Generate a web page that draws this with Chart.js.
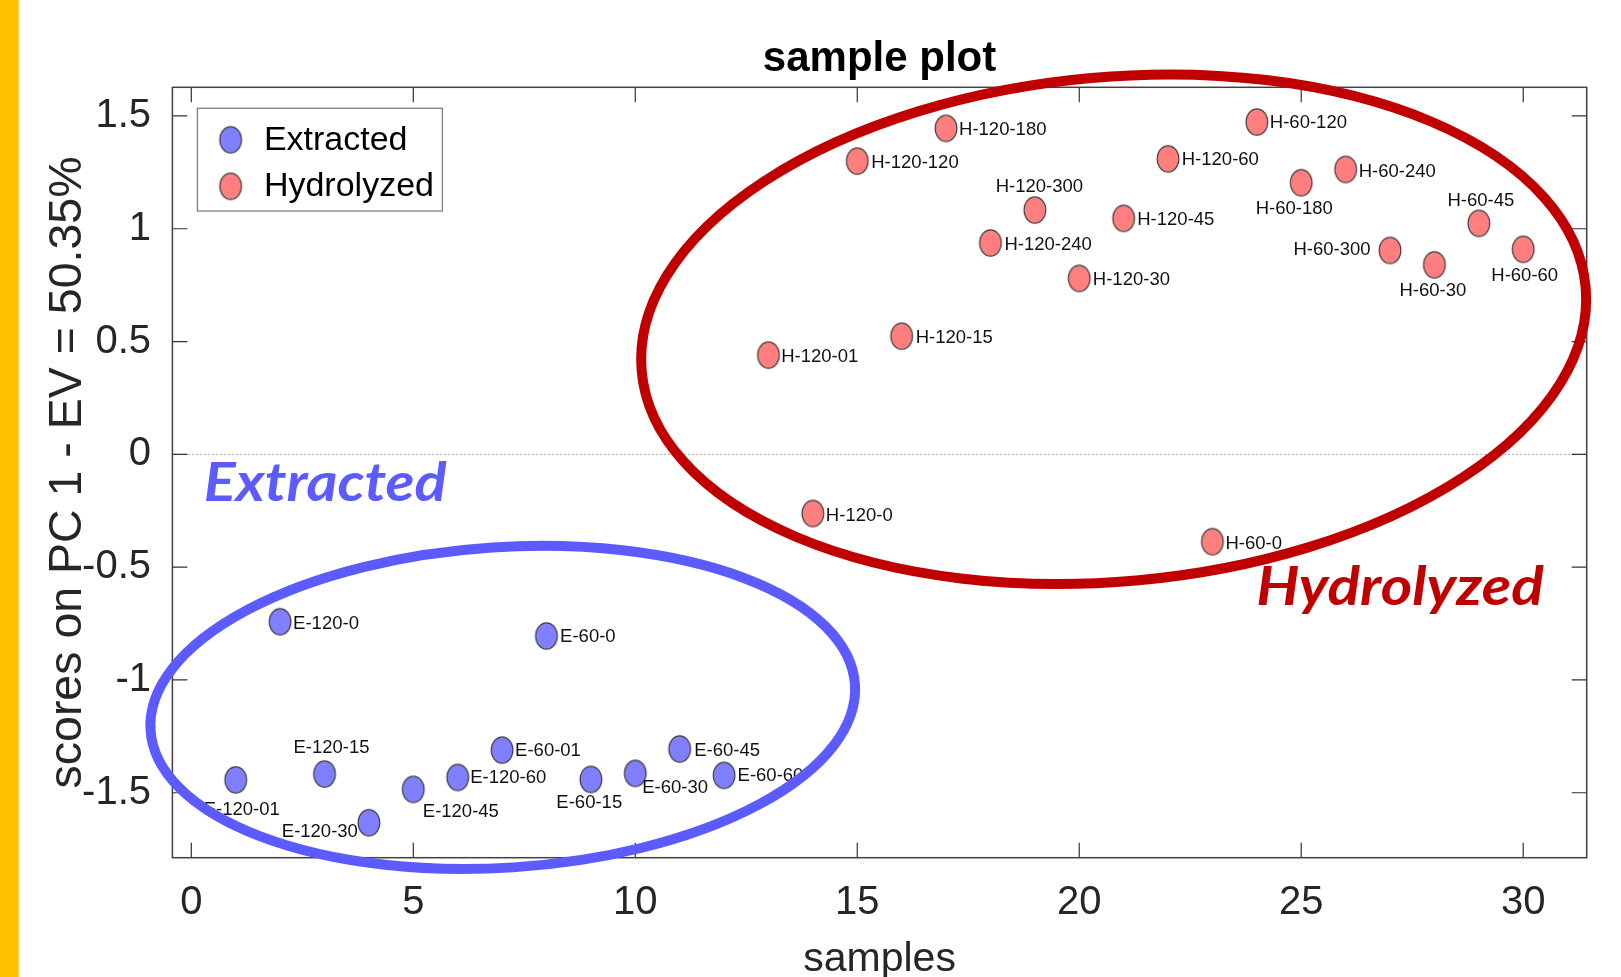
<!DOCTYPE html>
<html><head><meta charset="utf-8">
<script src="https://cdn.jsdelivr.net/npm/chart.js@4.4.1/dist/chart.umd.min.js"></script>
<style>html,body{margin:0;padding:0;background:#fff;overflow:hidden}canvas{display:block}</style>
</head><body>
<canvas id="c" width="1621" height="977" style="width:1621px;height:977px"></canvas>
<script>
// ---------- data ----------
const seriesNames = ['Extracted', 'Hydrolyzed'];
const extSamples = [1,2,3,4,5,6,7,8,9,10,11,12];
const extLabels = ['E-120-01','E-120-0','E-120-15','E-120-30','E-120-45','E-120-60','E-60-01','E-60-0','E-60-15','E-60-30','E-60-45','E-60-60'];
const extScores = [-1.443,-0.742,-1.417,-1.633,-1.485,-1.432,-1.311,-0.805,-1.441,-1.414,-1.306,-1.423];
const hydSamples = [13,14,15,16,17,18,19,20,21,22,23,24,25,26,27,28,29,30];
const hydLabels = ['H-120-01','H-120-0','H-120-120','H-120-15','H-120-180','H-120-240','H-120-300','H-120-30','H-120-45','H-120-60','H-60-0','H-60-120','H-60-180','H-60-240','H-60-300','H-60-30','H-60-45','H-60-60'];
const hydScores = [0.440,-0.262,1.300,0.524,1.445,0.937,1.083,0.780,1.046,1.310,-0.387,1.473,1.204,1.263,0.904,0.840,1.024,0.909];
const xTicks = [0,5,10,15,20,25,30];
const yTicks = [-1.5,-1,-0.5,0,0.5,1,1.5];
const xRange = [-0.426, 31.43];
const yRange = [-1.788, 1.627];
const titleText = 'sample plot';
const xTitle = 'samples';
const yTitle = 'scores on PC 1 - EV = 50.35%';

// label placement relative to marker: [dx px, dy px, align]
const extLabelPos = [[6,30,'center'],[13,2,'left'],[7,-26,'center'],[-11,9,'right'],[9.5,23,'left'],[12.5,1,'left'],[13,1,'left'],[13.6,1,'left'],[-1.6,23,'center'],[7,15,'left'],[14.6,2,'left'],[13.5,1,'left']];
const hydLabelPos = [[12.7,2,'left'],[13,2,'left'],[14,2,'left'],[14,2,'left'],[13,2,'left'],[14,1.5,'left'],[4.5,-23,'center'],[13.6,2,'left'],[13.6,2,'left'],[13.7,1,'left'],[13,2,'left'],[13,1,'left'],[-7,26,'center'],[13,2,'left'],[-19.5,0,'right'],[-1.5,26,'center'],[2,-22,'center'],[1.5,27,'center']];

// group annotations (centre in data units, semi-axes in data units, rotation deg)
const groupNames = ['Extracted', 'Hydrolyzed'];
const groupEllipses = [
  {cx: 7.015, cy: -1.1219, rx: 7.950, ry: 0.7105, rot: -3.7, color: '#5B5BFF'},
  {cx: 20.775, cy: 0.5545, rx: 10.673, ry: 1.1184, rot: -5.1, color: '#C00000'}
];
const groupTextPos = [
  {x: 0.2795, y: -0.2083, width: 243, color: '#5B5BFF'},
  {x: 23.985, y: -0.668, width: 287.5, color: '#C00000'}
];

// ---------- rendering ----------
Chart.defaults.font.family = "'Liberation Sans', Arial, Helvetica, sans-serif";
Chart.defaults.color = '#262626';

function makeMarker(fill) {
  const c = document.createElement('canvas');
  c.width = 26; c.height = 30;
  const g = c.getContext('2d');
  g.beginPath();
  g.ellipse(13, 15, 10.8, 13.1, 0, 0, Math.PI * 2);
  g.fillStyle = fill; g.fill();
  g.lineWidth = 1.2; g.strokeStyle = '#3a3a3a'; g.stroke();
  return c;
}
const markerExt = makeMarker('#7F7FFF');
const markerHyd = makeMarker('#FF7F7F');

const decor = {
  id: 'decor',
  beforeDraw(chart) {
    const ctx = chart.ctx;
    ctx.save();
    ctx.fillStyle = '#fff'; ctx.fillRect(0, 0, chart.width, chart.height);
    ctx.fillStyle = '#FFC000'; ctx.fillRect(0, 0, 18.7, chart.height);
    ctx.restore();
  },
  afterLayout(chart) {
    const t = chart.titleBlock;
    if (t) { t.left = chart.chartArea.left; t.right = chart.chartArea.right; t.width = t.right - t.left; }
  },
  beforeDatasetsDraw(chart) {
    const {ctx, chartArea: a, scales: {x, y}} = chart;
    ctx.save();
    const y0 = y.getPixelForValue(0);
    ctx.strokeStyle = '#8c8c8c'; ctx.lineWidth = 1; ctx.setLineDash([1.5, 2.5]);
    ctx.beginPath(); ctx.moveTo(a.left, y0); ctx.lineTo(a.right, y0); ctx.stroke();
    ctx.setLineDash([]);
    ctx.strokeStyle = '#333'; ctx.lineWidth = 1.2;
    ctx.beginPath();
    x.ticks.forEach(t => { const px = x.getPixelForValue(t.value);
      ctx.moveTo(px, a.bottom); ctx.lineTo(px, a.bottom - 15);
      ctx.moveTo(px, a.top); ctx.lineTo(px, a.top + 15); });
    y.ticks.forEach(t => { const py = y.getPixelForValue(t.value);
      ctx.moveTo(a.left, py); ctx.lineTo(a.left + 15, py);
      ctx.moveTo(a.right, py); ctx.lineTo(a.right - 15, py); });
    ctx.stroke();
    ctx.strokeStyle = '#404040'; ctx.lineWidth = 1.5;
    ctx.strokeRect(a.left, a.top, a.right - a.left, a.bottom - a.top);
    ctx.restore();
  },
  afterDatasetsDraw(chart) {
    const {ctx, chartArea: a, scales: {x, y}} = chart;
    ctx.save();
    // point labels
    ctx.font = "18.5px 'Liberation Sans', Arial, sans-serif";
    ctx.fillStyle = '#111'; ctx.textBaseline = 'middle';
    chart.data.datasets.forEach((ds, di) => {
      const meta = chart.getDatasetMeta(di);
      meta.data.forEach((pt, i) => {
        const p = ds.labelPos[i];
        ctx.textAlign = p[2];
        ctx.fillText(ds.pointLabels[i], pt.x + p[0], pt.y + p[1]);
      });
    });
    // group ellipses
    const pxX = Math.abs(x.getPixelForValue(1) - x.getPixelForValue(0));
    const pxY = Math.abs(y.getPixelForValue(1) - y.getPixelForValue(0));
    groupEllipses.forEach(e => {
      ctx.beginPath();
      ctx.ellipse(x.getPixelForValue(e.cx), y.getPixelForValue(e.cy), e.rx * pxX, e.ry * pxY, e.rot * Math.PI / 180, 0, Math.PI * 2);
      ctx.strokeStyle = e.color; ctx.lineWidth = 10; ctx.stroke();
    });
    // group names
    ctx.textAlign = 'left'; ctx.textBaseline = 'alphabetic';
    groupTextPos.forEach((g, i) => {
      ctx.font = "italic bold 54px Lato, 'Open Sans', sans-serif";
      const w = ctx.measureText(groupNames[i]).width;
      const s = g.width / w;
      ctx.save();
      ctx.translate(x.getPixelForValue(g.x), y.getPixelForValue(g.y));
      ctx.scale(s, 1);
      ctx.fillStyle = g.color;
      ctx.fillText(groupNames[i], 0, 0);
      ctx.restore();
    });
    // legend
    const lx = a.left + 25, ly = a.top + 21, lw = 245, lh = 102.7;
    ctx.fillStyle = '#fff'; ctx.fillRect(lx, ly, lw, lh);
    ctx.strokeStyle = '#808080'; ctx.lineWidth = 1.3; ctx.strokeRect(lx, ly, lw, lh);
    const marks = [markerExt, markerHyd];
    const rowsY = [ly + 31.5, ly + 78];
    ctx.font = "34px 'Liberation Sans', Arial, sans-serif";
    ctx.fillStyle = '#000'; ctx.textBaseline = 'middle'; ctx.textAlign = 'left';
    chart.data.datasets.forEach((ds, i) => {
      ctx.drawImage(marks[i], lx + 33.2 - 13, rowsY[i] - 15);
      ctx.fillText(ds.label, lx + 66.5, rowsY[i] + 0.5);
    });
    ctx.restore();
  }
};

const chart = new Chart(document.getElementById('c'), {
  type: 'scatter',
  data: {
    datasets: [
      { label: seriesNames[0], data: extSamples.map((s, i) => ({x: s, y: extScores[i]})),
        pointStyle: markerExt, pointRadius: 12, pointLabels: extLabels, labelPos: extLabelPos },
      { label: seriesNames[1], data: hydSamples.map((s, i) => ({x: s, y: hydScores[i]})),
        pointStyle: markerHyd, pointRadius: 12, pointLabels: hydLabels, labelPos: hydLabelPos }
    ]
  },
  options: {
    responsive: false, animation: false, devicePixelRatio: 1,
    layout: { padding: { left: 0, right: 34.3, top: 0, bottom: 0 } },
    plugins: {
      legend: { display: false },
      tooltip: { enabled: false },
      title: { display: true, text: titleText, color: '#000',
        font: { size: 42, weight: 'bold' }, padding: { top: 34.2, bottom: 2.7 } }
    },
    scales: {
      x: { type: 'linear', min: xRange[0], max: xRange[1],
        grid: { display: false }, border: { display: false },
        afterBuildTicks: s => { s.ticks = xTicks.map(v => ({value: v})); },
        afterFit: s => { s.height = 119.3; },
        ticks: { font: { size: 40 }, color: '#262626', padding: 13.3, maxRotation: 0, autoSkip: false, callback: v => String(v) },
        title: { display: true, text: xTitle, color: '#262626', font: { size: 41, lineHeight: 0.8 }, padding: { top: 0, bottom: 0.8 } }
      },
      y: { type: 'linear', min: yRange[0], max: yRange[1],
        grid: { display: false }, border: { display: false },
        afterBuildTicks: s => { s.ticks = yTicks.map(v => ({value: v})); },
        afterFit: s => { s.width = 172.4; },
        ticks: { font: { size: 40 }, color: '#262626', padding: 13.4, autoSkip: false, callback: v => String(v) },
        title: { display: true, text: yTitle, color: '#262626', font: { size: 46.5 }, padding: { top: 40, bottom: 0 } }
      }
    }
  },
  plugins: [decor]
});
</script>
</body></html>
